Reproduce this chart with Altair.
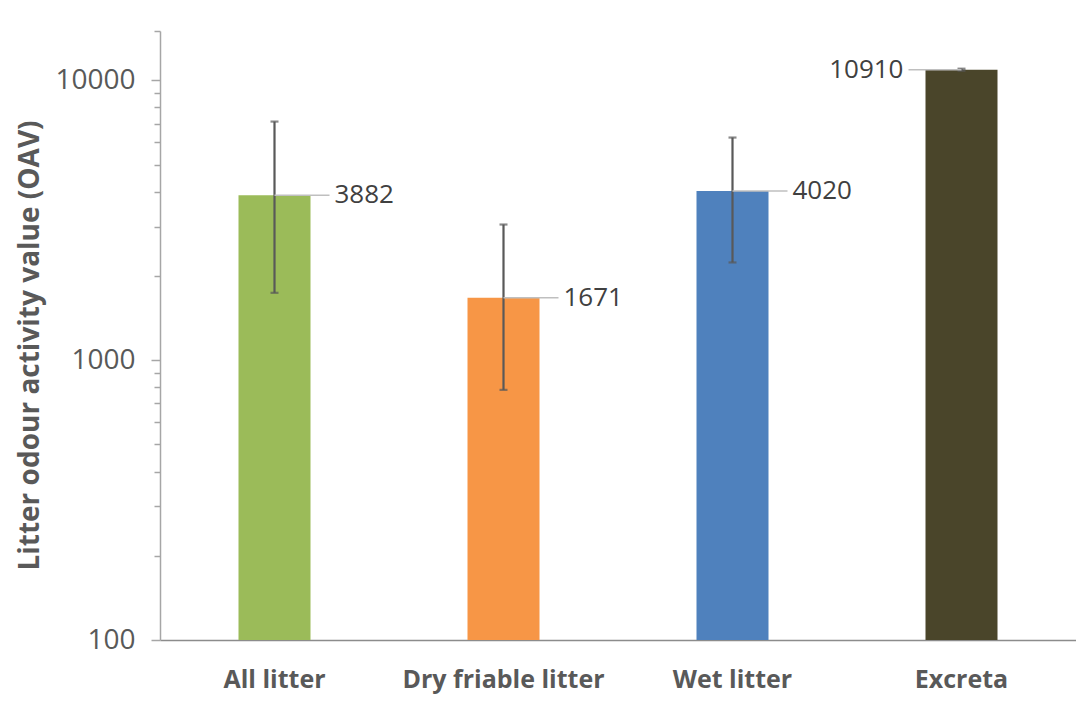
import altair as alt
import pandas as pd

categories = ["All litter", "Dry friable litter", "Wet litter", "Excreta"]
values = [3882, 1671, 4020, 10910]
err_low = [1740, 783, 2234, 10820]
err_high = [7120, 3052, 6243, 11000]
colors = ["#9BBB59", "#F79646", "#4F81BD", "#4A452A"]
label_side = ["right", "right", "right", "left"]

major_ticks = [100, 1000, 10000]
minor_ticks = [200, 300, 400, 500, 600, 700, 800, 900,
               2000, 3000, 4000, 5000, 6000, 7000, 8000, 9000, 15000]

df = pd.DataFrame({
    "cat": categories,
    "value": values,
    "lo": err_low,
    "hi": err_high,
    "color": colors,
    "side": label_side,
})

FONT = "Open Sans"
GRAY = "#595959"
major_test = "datum.value == 100 || datum.value == 1000 || datum.value == 10000"

x = alt.X("cat:N", sort=categories, title=None,
          scale=alt.Scale(paddingInner=0, paddingOuter=0),
          axis=alt.Axis(labelFont=FONT, labelFontSize=25, labelFontWeight="bold",
                        labelColor=GRAY, labelAngle=0, labelPadding=27, labelLimit=0,
                        ticks=False, domainColor="#8C8C8C", domainWidth=1.5))
x_plain = alt.X("cat:N", sort=categories)

yscale = alt.Scale(type="log", domain=[100, 15000], nice=False)

base = alt.Chart(df)

bars = base.mark_bar(size=72).encode(
    x=x,
    y=alt.Y("value:Q", scale=yscale,
            title="Litter odour activity value (OAV)",
            axis=alt.Axis(values=major_ticks + minor_ticks, format="d",
                          labelExpr="(" + major_test + ") ? datum.label : ''",
                          labelOverlap=False,
                          tickSize={"condition": {"test": major_test, "value": 9}, "value": 6},
                          tickColor="#A6A6A6", tickWidth=1.5,
                          domainColor="#A6A6A6", domainWidth=1.5,
                          labelFont=FONT, labelFontSize=28, labelColor=GRAY,
                          labelPadding=16, grid=False,
                          titleFont=FONT, titleFontSize=28, titleFontWeight="bold",
                          titleColor=GRAY, titlePadding=10, titleY=314)),
    y2=alt.Y2(datum=100),
    color=alt.Color("color:N", scale=None),
)

y_lo = alt.Y("lo:Q", scale=yscale)
y_hi = alt.Y("hi:Q", scale=yscale)
y_val = alt.Y("value:Q", scale=yscale)

err_rule = base.mark_rule(color=GRAY, strokeWidth=2.2).encode(
    x=x_plain, y=y_lo, y2="hi:Q")
cap_lo = base.mark_tick(color=GRAY, size=8, thickness=2.2).encode(x=x_plain, y=y_lo)
cap_hi = base.mark_tick(color=GRAY, size=8, thickness=2.2).encode(x=x_plain, y=y_hi)

right = base.transform_filter(alt.datum.side == "right")
left = base.transform_filter(alt.datum.side == "left")

leader_r = right.mark_rule(color="#BFBFBF", strokeWidth=1.5, x2Offset=55).encode(
    x=x_plain, x2=alt.X2("cat:N"), y=y_val)
leader_l = left.mark_rule(color="#BFBFBF", strokeWidth=1.5, x2Offset=-53).encode(
    x=x_plain, x2=alt.X2("cat:N"), y=y_val)

text_r = right.mark_text(align="left", baseline="middle", dx=60, font=FONT,
                         fontSize=26, color="#404040").encode(
    x=x_plain, y=y_val, text=alt.Text("value:Q", format="d"))
text_l = left.mark_text(align="right", baseline="middle", dx=-58, font=FONT,
                        fontSize=26, color="#404040").encode(
    x=x_plain, y=y_val, text=alt.Text("value:Q", format="d"))

chart = alt.layer(
    bars, err_rule, cap_lo, cap_hi, leader_r, leader_l, text_r, text_l
).properties(
    width=916, height=609,
    background="white",
    autosize=alt.AutoSizeParams(type="none"),
    padding={"left": 152, "top": 23, "right": 0, "bottom": 65},
).configure_view(stroke=None).configure_axis(grid=False)

chart.save("out.html", embed_options={"renderer": "svg", "actions": False})
